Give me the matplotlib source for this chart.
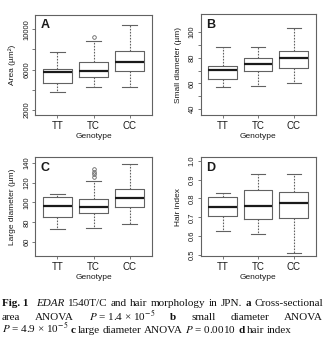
"""
Box plots of hair morphology by EDAR 1540T/C genotype, with a caption
"""

import matplotlib
matplotlib.use('Agg')
import matplotlib.pyplot as plt

plt.rcParams['font.family'] = ['Liberation Sans', 'DejaVu Sans']
plt.rcParams['mathtext.fontset'] = 'stix'

genotypes = ['TT', 'TC', 'CC']

# five number summaries per genotype: lower whisker, Q1, median, Q3, upper whisker
area_stats = [[3780, 4640, 5780, 6100, 7700],
              [4300, 5230, 5880, 6710, 8850],
              [4300, 5880, 6710, 7830, 10400]]
area_fliers = [[], [9210], []]

small_stats = [[57.5, 63.2, 70.4, 73.7, 87.9],
               [58.0, 69.6, 75.0, 79.9, 88.4],
               [60.3, 72.2, 79.4, 85.3, 102.9]]
small_fliers = [[], [], []]

large_stats = [[73.4, 85.7, 96.5, 105.2, 108.8],
               [74.7, 89.8, 95.8, 103.2, 121.6],
               [78.4, 95.2, 104.2, 113.9, 139.0]]
large_fliers = [[], [125.3, 128.6, 131.0, 134.0], []]

index_stats = [[0.627, 0.708, 0.756, 0.809, 0.830],
               [0.611, 0.689, 0.760, 0.845, 0.929],
               [0.512, 0.698, 0.776, 0.834, 0.929]]
index_fliers = [[], [], []]

# y axis ticks and which of them carry a label
area_ticks = [2000, 4000, 6000, 8000, 10000]
area_labels = ['2000', '', '6000', '', '10000']
small_ticks = [40, 50, 60, 70, 80, 90, 100]
small_labels = ['40', '', '60', '', '80', '', '100']
large_ticks = [60, 80, 100, 120, 140]
large_labels = ['60', '80', '100', '120', '140']
index_ticks = [0.5, 0.6, 0.7, 0.8, 0.9, 1.0]
index_labels = ['0.5', '0.6', '0.7', '0.8', '0.9', '1.0']

fig = plt.figure(figsize=(3.25, 3.37), dpi=100)

gray = '#626262'
dark = '#1a1a1a'


def box_panel(rect, stats, fliers, ylim, ticks, labels, ylabel, letter):
    ax = fig.add_axes(rect)
    boxes = []
    for s, f in zip(stats, fliers):
        boxes.append({'whislo': s[0], 'q1': s[1], 'med': s[2],
                      'q3': s[3], 'whishi': s[4], 'fliers': f})
    ax.bxp(boxes, positions=[1, 2, 3], widths=0.8, capwidths=0.4,
           boxprops=dict(color=gray, linewidth=0.8),
           whiskerprops=dict(color=gray, linewidth=0.8, linestyle=(0, (1.5, 1.2))),
           capprops=dict(color=gray, linewidth=0.8),
           medianprops=dict(color=dark, linewidth=1.6),
           flierprops=dict(marker='o', markersize=2.6, markerfacecolor='none',
                           markeredgecolor=gray, markeredgewidth=0.6))
    ax.set_xlim(0.38, 3.62)
    ax.set_ylim(*ylim)
    ax.set_xticks([1, 2, 3])
    ax.set_xticklabels(genotypes, fontsize=7, color=dark)
    ax.set_yticks(ticks)
    ax.set_yticklabels(labels, fontsize=5.5, color=dark, rotation=90, va='center')
    ax.tick_params(axis='both', length=2.5, width=0.6, color=gray)
    ax.tick_params(axis='x', pad=2)
    ax.tick_params(axis='y', pad=1)
    for sp in ax.spines.values():
        sp.set_color(gray)
        sp.set_linewidth(0.8)
    ax.set_xlabel('Genotype', fontsize=6, color=dark, labelpad=1)
    ax.set_ylabel(ylabel, fontsize=6, color=dark, labelpad=5)
    ax.text(0.045, 0.955, letter, transform=ax.transAxes, fontsize=9,
            fontweight='bold', ha='left', va='top', color=dark)
    return ax


box_panel([0.1077, 0.6588, 0.36, 0.2967], area_stats, area_fliers,
          (1500, 11400), area_ticks, area_labels, 'Area (µm²)', 'A')
box_panel([0.6175, 0.6588, 0.3538, 0.2988], small_stats, small_fliers,
          (35.6, 113.5), small_ticks, small_labels, 'Small diameter (µm)', 'B')
box_panel([0.1077, 0.2404, 0.36, 0.2929], large_stats, large_fliers,
          (46.2, 145.4), large_ticks, large_labels, 'Large diameter (µm)', 'C')
box_panel([0.6175, 0.2404, 0.3538, 0.2929], index_stats, index_fliers,
          (0.495, 1.018), index_ticks, index_labels, 'Hair index', 'D')

# Caption, set word by word so the first two lines can be justified
cap_fs = 8.0
fig_w = fig.get_figwidth() * fig.dpi
fig_h = fig.get_figheight() * fig.dpi
renderer = fig.canvas.get_renderer()

B = dict(fontweight='bold')
I = dict(fontstyle='italic')
N = dict()

line1 = [('Fig. 1', B), ('EDAR', I), ('1540T/C', N), ('and', N), ('hair', N),
         ('morphology', N), ('in', N), ('JPN.', N), ('a', B),
         ('Cross-sectional', N)]
line2 = [('area', N), ('ANOVA', N), ('$P$ = 1.4 × 10$^{-5}$', N), ('b', B),
         ('small', N), ('diameter', N), ('ANOVA', N)]
line3 = [('$P$ = 4.9 × 10$^{-5}$', N), ('c', B), ('large', N), ('diameter', N),
         ('ANOVA', N), ('$P$ = 0.0010', N), ('d', B), ('hair', N), ('index', N)]


def caption_line(tokens, y_px, justify, lead_gap=0.0):
    x0, x1 = 2.0, 323.0
    texts = []
    for s, kw in tokens:
        t = fig.text(0, 1 - y_px / fig_h, s, fontsize=cap_fs,
                     family=['Liberation Serif', 'DejaVu Serif'],
                     va='baseline', ha='left', color='#111111', **kw)
        texts.append(t)
    widths = [t.get_window_extent(renderer).width for t in texts]
    space = 0.22 * cap_fs * fig.dpi / 72
    if justify:
        space = (x1 - x0 - sum(widths) - lead_gap) / (len(texts) - 1)
    x = x0
    for i, (t, w) in enumerate(zip(texts, widths)):
        t.set_x(x / fig_w)
        x += w + space
        if i == 0:
            x += lead_gap


caption_line(line1, 306.5, True, lead_gap=5.0)
caption_line(line2, 320.0, True)
caption_line(line3, 332.7, False)

fig.savefig('out.png', dpi=100)
